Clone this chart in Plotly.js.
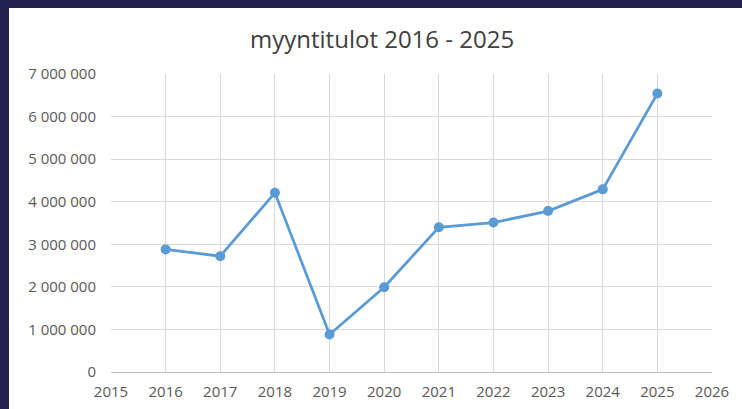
<!DOCTYPE html>
<html>
<head>
<meta charset="utf-8">
<script src="https://cdn.plot.ly/plotly-3.0.1.min.js"></script>
<style>
  html, body { margin: 0; padding: 0; background: #232150; width: 742px; height: 409px; overflow: hidden; }
  #chart { position: absolute; left: 9px; top: 8px; width: 733px; height: 401px; background: #ffffff; }
</style>
</head>
<body>
<div id="chart"></div>
<script>
const years = [2016, 2017, 2018, 2019, 2020, 2021, 2022, 2023, 2024, 2025];
const sales = [2880000, 2720000, 4210000, 880000, 1990000, 3400000, 3510000, 3780000, 4290000, 6540000];
const xTicks = [2015, 2016, 2017, 2018, 2019, 2020, 2021, 2022, 2023, 2024, 2025, 2026];
const yTicks = [0, 1000000, 2000000, 3000000, 4000000, 5000000, 6000000, 7000000];
const yTickText = ["0", "1 000 000", "2 000 000", "3 000 000", "4 000 000", "5 000 000", "6 000 000", "7 000 000"];
const titleText = "myyntitulot 2016 - 2025";

const trace = {
  x: years,
  y: sales,
  type: 'scatter',
  mode: 'lines+markers',
  line: { color: '#5b9bd5', width: 2.75 },
  marker: { color: '#5b9bd5', size: 10 },
  hoverinfo: 'x+y'
};

const layout = {
  width: 733,
  height: 401,
  margin: { l: 102, r: 30, t: 66, b: 37, pad: 0 },
  paper_bgcolor: '#ffffff',
  plot_bgcolor: '#ffffff',
  showlegend: false,
  font: { family: '"Open Sans", "Liberation Sans", sans-serif', color: '#595959', size: 15 },
  title: {
    text: titleText,
    font: { family: '"Open Sans", "Liberation Sans", sans-serif', size: 24, color: '#404040' },
    xref: 'container', x: 0.509, xanchor: 'center',
    yref: 'container', y: 0.92, yanchor: 'middle'
  },
  xaxis: {
    range: [2015, 2026],
    tickmode: 'array',
    tickvals: xTicks,
    ticktext: xTicks.map(String),
    showgrid: true,
    gridcolor: '#d9d9d9',
    gridwidth: 1,
    zeroline: false,
    showline: true,
    linecolor: '#bfbfbf',
    linewidth: 1,
    ticks: '',
    ticklabelstandoff: 6,
    tickfont: { size: 15, color: '#595959' },
    fixedrange: true
  },
  yaxis: {
    range: [0, 7000000],
    tickmode: 'array',
    tickvals: yTicks,
    ticktext: yTickText,
    showgrid: true,
    gridcolor: '#d9d9d9',
    gridwidth: 1,
    zeroline: false,
    showline: false,
    ticks: '',
    ticklabelstandoff: 14,
    tickfont: { size: 15, color: '#595959' },
    fixedrange: true
  }
};

Plotly.newPlot('chart', [trace], layout, { displayModeBar: false, staticPlot: true });
</script>
</body>
</html>
